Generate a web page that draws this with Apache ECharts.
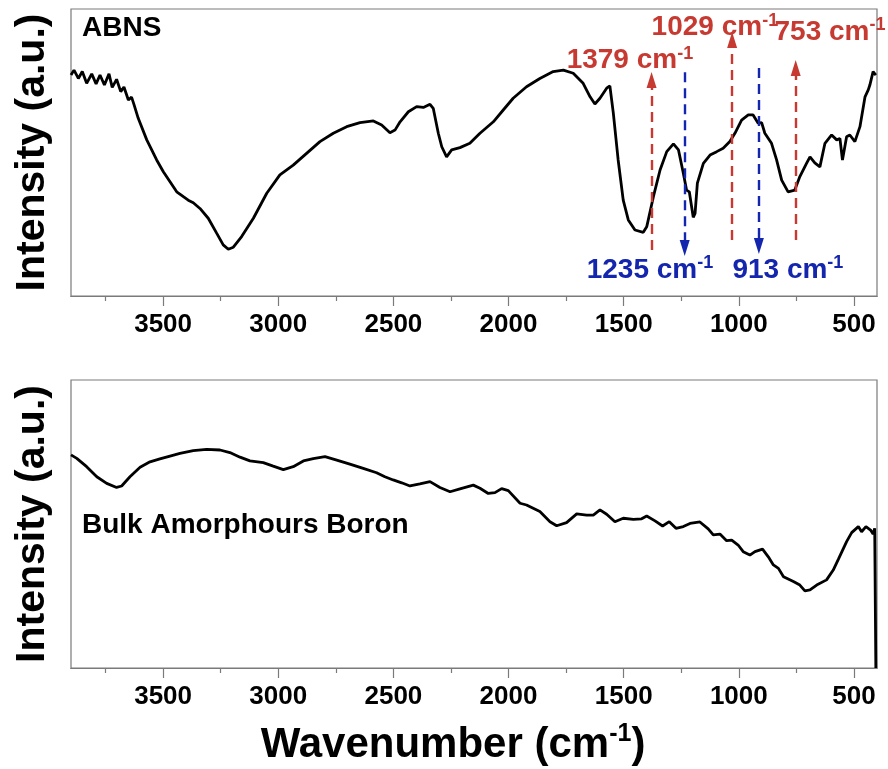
<!DOCTYPE html>
<html>
<head>
<meta charset="utf-8">
<script src="https://cdn.jsdelivr.net/npm/echarts@6/dist/echarts.min.js"></script>
<style>
  html, body { margin: 0; padding: 0; background: #fff; }
  #chart { width: 888px; height: 769px; }
</style>
</head>
<body>
<div id="chart"></div>
<script>
// FTIR spectra: ABNS (top) and bulk amorphous boron (bottom)
const wnABNS = [3900,3887,3868,3851,3832,3810,3791,3774,3755,3735,3721,3702,3684,3670,3651,3637,3626,3608,3571,3528,3499,3470,3441,3412,3391,3369,3340,3304,3267,3239,3217,3195,3159,3108,3050,2993,2935,2877,2819,2761,2703,2645,2587,2551,2515,2493,2471,2435,2399,2370,2341,2327,2305,2290,2269,2247,2211,2168,2124,2066,2023,1980,1922,1864,1806,1762,1719,1676,1646,1625,1603,1574,1560,1545,1524,1502,1480,1451,1415,1400,1371,1342,1313,1284,1262,1241,1227,1215,1205,1198,1190,1180,1154,1125,1096,1068,1039,1017,988,959,938,916,901,887,858,836,814,786,757,735,706,691,670,648,626,597,575,561,550,532,518,496,474,452,438,431,417,405];
const intABNS = [77.0,78.7,75.8,78.2,74.1,77.4,73.9,77.0,73.5,77.4,72.7,75.5,71.2,72.8,68.3,69.3,66.6,61.9,54.4,47.4,43.3,39.8,36.3,34.6,33.4,32.5,30.5,27.1,21.8,17.8,16.3,17.0,20.7,27.1,35.8,42.2,45.6,49.7,53.8,56.7,59.0,60.4,61.0,59.6,56.9,57.8,60.7,64.2,66.0,65.7,66.8,65.4,56.7,52.0,48.5,50.9,51.7,53.2,56.7,60.7,64.8,68.9,72.9,75.8,78.2,78.7,77.6,74.1,69.4,66.9,68.9,72.4,73.2,63.7,47.4,33.4,26.5,23.0,22.2,24.1,34.6,43.9,50.3,53.0,50.9,42.8,36.9,36.3,31.1,27.4,28.8,39.3,46.2,49.1,50.3,51.5,53.8,56.7,61.3,63.1,63.1,60.2,60.4,56.7,53.2,47.4,40.4,36.3,36.9,41.6,46.2,48.5,46.4,45.0,53.2,56.1,54.4,54.9,47.4,55.5,56.1,53.8,59.0,69.4,71.8,73.5,78.2,77.0];

const wnBoron = [3900,3875,3832,3788,3745,3702,3680,3644,3600,3557,3514,3470,3427,3369,3311,3253,3210,3166,3123,3065,3022,2978,2935,2891,2848,2797,2746,2689,2631,2573,2537,2501,2464,2428,2385,2341,2298,2254,2211,2153,2124,2088,2059,2030,2001,1950,1922,1864,1820,1791,1748,1704,1661,1632,1603,1574,1538,1502,1458,1422,1400,1364,1331,1302,1273,1241,1212,1169,1133,1111,1082,1053,1031,1003,981,952,930,897,872,850,828,806,763,735,713,691,662,619,590,568,532,510,481,467,448,428,417,410,406,405];
const intBoron = [74.0,72.8,69.9,66.4,64.1,62.7,63.2,66.4,69.7,71.6,72.6,73.6,74.5,75.5,75.9,75.7,74.8,73.2,71.9,71.3,70.1,68.9,69.9,71.9,72.7,73.4,72.2,70.8,69.3,67.8,66.4,65.3,64.3,63.2,63.9,64.7,62.7,61.2,62.2,63.5,62.4,60.6,60.9,62.3,61.6,57.2,56.6,54.3,50.8,49.4,50.5,53.5,53.1,53.1,54.9,53.4,50.8,52.0,51.6,51.8,52.8,51.1,49.3,50.8,48.5,49.1,50.2,50.7,48.3,46.2,46.5,44.2,44.4,42.7,40.4,39.2,40.4,41.3,38.6,35.8,34.6,31.7,30.0,28.8,26.8,27.1,28.8,30.6,34.0,37.7,43.9,47.0,49.1,47.3,49.1,47.9,46.5,48.5,48.3,0];

// Axis ticks
const majorTicks = [3500,3000,2500,2000,1500,1000,500];
const minorTicks = [3750,3250,2750,2250,1750,1250,750];

// Assigned bands: wavenumber, arrow direction, dashed span (intensity units)
const bandWn    = [1379, 1029, 753, 1235, 913];
const bandDir   = ['up', 'up', 'up', 'down', 'down'];
const bandFrom  = [16.0, 19.5, 19.5, 78.0, 79.4];
const bandTo    = [75.3, 89.2, 79.4, 16.7, 17.4];
// label anchors (wavenumber, intensity) for each band caption
const labelWn   = [1473, 1104, 604, 1386, 787];
const labelInt  = [82.2, 93.7, 92.0, 9.1, 9.1];

const RED = '#c63a32';
const BLUE = '#1426ad';
const TXT = "'Liberation Sans', Arial, sans-serif";
const AXIS_GRAY = '#7a7a7a';

const pairs = (xs, ys) => xs.map((x, i) => [x, ys[i]]);

const grids = [
  { left: 71, right: 11, top: 9, height: 287 },
  { left: 71, right: 11, top: 380, height: 288 }
];

function xAxes(gi) {
  const base = {
    type: 'value', gridIndex: gi, position: 'bottom', min: 400, max: 3900, inverse: true,
    splitLine: { show: false },
    axisLine: { show: true, onZero: false, lineStyle: { color: AXIS_GRAY, width: 1.2 } }
  };
  return [
    Object.assign({}, base, {
      axisTick: { show: true, length: 10, customValues: majorTicks, lineStyle: { color: AXIS_GRAY, width: 1.2 } },
      axisLabel: {
        show: true, customValues: majorTicks, margin: 16,
        formatter: v => String(v),
        fontFamily: TXT, fontWeight: 'bold', fontSize: 26, color: '#000'
      }
    }),
    Object.assign({}, base, {
      axisTick: { show: true, length: 5, customValues: minorTicks, lineStyle: { color: AXIS_GRAY, width: 1.2 } },
      axisLabel: { show: false }
    })
  ];
}

const xAxis = xAxes(0).concat(xAxes(1));
xAxis[2].name = '{a|Wavenumber (cm}{b|-1}{a|)}';
xAxis[2].nameLocation = 'middle';
xAxis[2].nameGap = 54;
xAxis[2].nameTextStyle = {
  padding: [0, 42, 0, 0],
  rich: {
    a: { fontFamily: TXT, fontWeight: 'bold', fontSize: 42, color: '#000', lineHeight: 46 },
    b: { fontFamily: TXT, fontWeight: 'bold', fontSize: 25, color: '#000', verticalAlign: 'top', lineHeight: 46 }
  }
};

function yAxis(gi) {
  return {
    type: 'value', gridIndex: gi, min: 0, max: 100,
    axisLine: { show: false }, axisTick: { show: false }, axisLabel: { show: false },
    splitLine: { show: false },
    name: 'Intensity (a.u.)', nameLocation: 'middle', nameRotate: 90, nameGap: 18,
    nameTextStyle: { fontFamily: TXT, fontWeight: 'bold', fontSize: 41, color: '#000' }
  };
}

function supLabel(color) {
  return {
    a: { fontFamily: TXT, fontWeight: 'bold', fontSize: 28, color: color, lineHeight: 31 },
    b: { fontFamily: TXT, fontWeight: 'bold', fontSize: 18, color: color, verticalAlign: 'top', lineHeight: 31 }
  };
}

// dashed arrows marking the assigned bands
const bandLines = bandWn.map((wn, i) => {
  const color = bandDir[i] === 'up' ? RED : BLUE;
  return [
    { coord: [wn, bandFrom[i]], lineStyle: { color: color }, itemStyle: { color: color } },
    { coord: [wn, bandTo[i]], itemStyle: { color: color } }
  ];
});

const bandLabels = bandWn.map((wn, i) => {
  const color = bandDir[i] === 'up' ? RED : BLUE;
  return {
    coord: [labelWn[i], labelInt[i]],
    symbol: 'circle', symbolSize: 0,
    label: {
      show: true, position: 'inside',
      formatter: '{a|' + wn + ' cm}{b|-1}',
      rich: supLabel(color)
    }
  };
});

const option = {
  animation: false,
  backgroundColor: '#fff',
  grid: grids.map(g => Object.assign({ show: true, borderColor: AXIS_GRAY, borderWidth: 1.2, backgroundColor: 'transparent' }, g)),
  xAxis: xAxis,
  yAxis: [yAxis(0), yAxis(1)],
  series: [
    {
      type: 'line', xAxisIndex: 0, yAxisIndex: 0,
      data: pairs(wnABNS, intABNS),
      showSymbol: false, clip: false,
      lineStyle: { color: '#000', width: 2.8 },
      markLine: {
        silent: true, symbol: ['none', 'triangle'], symbolSize: [10, 16],
        lineStyle: { type: [10, 6], width: 2.4 },
        label: { show: false },
        data: bandLines
      },
      markPoint: { silent: true, data: bandLabels }
    },
    {
      type: 'line', xAxisIndex: 2, yAxisIndex: 1,
      data: pairs(wnBoron, intBoron),
      showSymbol: false, clip: false,
      lineStyle: { color: '#000', width: 2.8 }
    }
  ],
  graphic: [
    {
      type: 'text', left: 82, top: 14,
      style: { text: 'ABNS', font: "bold 28px 'Liberation Sans', Arial, sans-serif", fill: '#000' }
    },
    {
      type: 'text', left: 82, top: 511,
      style: { text: 'Bulk Amorphours Boron', font: "bold 28px 'Liberation Sans', Arial, sans-serif", fill: '#000' }
    }
  ]
};

const chart = echarts.init(document.getElementById('chart'), null, { renderer: 'canvas' });
chart.setOption(option);
</script>
</body>
</html>
